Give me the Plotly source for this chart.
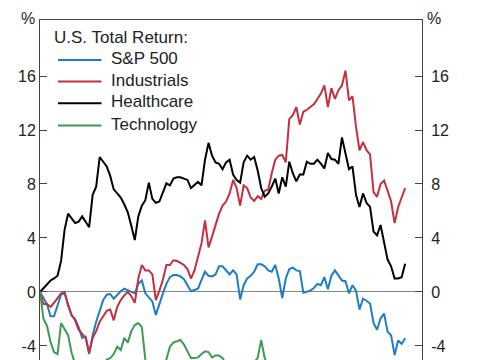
import plotly.graph_objects as go

weeks = list(range(105))

sp500 = [0, -0.5, -0.9, -1.8, -1.8, -1.0, -0.2, -0.1, -0.9, -1.75,
         -2.0, -2.6, -3.4, -3.3, -4.6, -3.2, -2.2, -1.3, -0.6, -0.2,
         -0.15, -0.5, -0.2, 0.05, 0.25, 0.15, 0.0, -0.1, 0.6, 0.85,
         -0.1, -0.4, -0.7, -1.7, -0.8, -0.1, 0.6, 1.1, 1.25, 1.26,
         1.15, 0.95, 0.5, 0.05, 0.15, 0.25, 0.9, 1.5, 1.2, 1.15,
         1.3, 1.9, 1.9, 1.6, 1.3, 1.6, 1.3, -0.55, 0.5, 1.0,
         1.2, 1.5, 2.05, 2.05, 1.9, 1.6, 1.5, 2.0, 1.0, -0.45,
         1.0, 1.7, 1.8, 1.6, 1.55, -0.05, 0.02, 0.1, 0.3, 0.6,
         0.5, 1.1, 0.2, 1.2, 1.6, 1.2, 0.85, 0.8, -0.1, 0.5,
         0.1, -1.3, -0.5, -0.65, -0.85, -2.3, -2.8, -1.95, -1.6, -2.95,
         -3.2, -4.67, -3.6, -3.85, -3.43]

industrials = [0, -0.9, -0.9, -1.1, -0.8, -0.4, -0.1, 0.0, -1.0, -1.7,
               -2.1, -2.8, -3.1, -3.4, -4.5, -3.4, -2.9, -2.2, -1.8, -1.4,
               -1.3, -2.1, -1.1, -0.6, -0.25, 0.0, -0.3, -0.8, 1.0, 2.0,
               1.6, 1.6, 1.3, -0.6, 0.1, 0.9, 2.0, 2.0, 2.35, 2.3,
               2.15, 2.0, 1.7, 1.0, 1.6, 2.5, 3.6, 5.3, 3.3, 4.1,
               5.0, 5.8, 6.4, 6.7, 7.3, 8.3, 7.7, 6.4, 7.9, 7.7,
               7.0, 6.75, 7.1, 6.9, 7.5, 7.6, 8.8, 9.8, 10.1, 10.15,
               9.6, 12.8, 13.1, 13.7, 12.4, 13.35, 13.5, 13.7, 13.9, 14.3,
               14.7, 15.3, 13.7, 15.1, 14.3, 14.95, 15.3, 16.4, 14.2, 14.5,
               12.25, 10.5, 11.1, 10.5, 10.2, 7.4, 7.05, 8.0, 8.25, 7.5,
               6.7, 5.1, 6.3, 7.0, 7.7]

healthcare = [0, 0.3, 0.6, 0.85, 1.0, 1.2, 2.3, 4.6, 5.8, 5.4,
              5.1, 5.2, 5.6, 5.2, 4.8, 7.2, 7.8, 10.0, 9.65, 9.3,
              8.6, 7.6, 7.3, 7.0, 6.5, 5.9, 4.9, 3.85, 5.6, 6.4,
              6.8, 8.1, 6.9, 6.6, 6.7, 7.4, 8.05, 7.9, 8.4, 8.5,
              8.5, 8.4, 8.3, 7.7, 7.9, 8.15, 7.9, 9.8, 11.05, 10.1,
              9.6, 9.5, 9.1, 9.6, 9.8, 8.7, 8.3, 8.1, 9.6, 10.1,
              9.8, 10.0, 9.0, 7.7, 7.05, 7.3, 7.8, 8.4, 7.3, 8.5,
              7.8, 9.65, 8.8, 8.2, 8.7, 8.7, 9.65, 9.5, 9.5, 9.8,
              9.5, 9.15, 10.3, 9.85, 9.8, 9.5, 11.45, 10.3, 9.1, 9.3,
              7.2, 6.3, 7.3, 6.6, 6.3, 4.47, 4.2, 4.96, 3.6, 2.4,
              1.9, 1.0, 1.0, 1.1, 2.1]

technology = [0, -2.0, -2.5, -3.7, -4.45, -4.6, -2.3, -2.8, -3.2, -4.5,
              -5.5, -6.2, -6.5, -7.0, -7.5, -7.0, -6.5, -6.0, -5.6, -5.0,
              -4.9, -4.6, -4.05, -4.3, -3.4, -3.75, -2.9, -2.45, -2.3, -2.6,
              -5.0, -6.0, -6.3, -6.5, -6.0, -5.5, -5.0, -4.05, -3.75, -3.65,
              -3.55, -3.9, -4.45, -4.9, -4.9, -4.85, -4.6, -4.4, -4.45, -4.85,
              -4.7, -4.7, -4.9, -5.4, -5.8, -6.0, -5.9, -6.2, -5.8, -5.6,
              -5.4, -5.2, -4.9, -3.55, -4.9, -5.5, -6.0, -6.3, -6.2, -6.8,
              -7.0, -6.6, -7.2, -7.5, -7.3, -7.9, -8.2, -8.0, -8.4, -8.1,
              -7.8, -8.3, -8.6, -8.2, -8.0, -8.5, -8.1, -7.9, -8.8, -8.6,
              -9.5, -10.2, -9.8, -10.1, -10.4, -11.5, -12.0, -11.4, -11.1, -12.2,
              -12.6, -13.5, -12.8, -13.0, -12.7]

series_names = ["S&P 500", "Industrials", "Healthcare", "Technology"]
series_colors = ["#1f7cc6", "#c4303f", "#000000", "#3f9a52"]
tick_vals = [-4, 0, 4, 8, 12, 16]
tick_text = ["-4", "0", "4", "8", "12", "16"]
legend_title = "U.S. Total Return:"
unit_label = "%"

FONT = "Liberation Sans, Arial, sans-serif"
TXT = "#222222"
AXC = "#444444"
YR = [-5.04, 20.15]

fig = go.Figure()
for name, vals, col in zip(series_names, [sp500, industrials, healthcare, technology], series_colors):
    fig.add_trace(go.Scatter(x=weeks, y=vals, mode="lines", name=name,
                             line=dict(color=col, width=2), showlegend=False))
# carrier for the right-hand axis
fig.add_trace(go.Scatter(x=[weeks[0]], y=[sp500[0]], yaxis="y2", mode="lines",
                         line=dict(width=0), showlegend=False, hoverinfo="skip"))

yax = dict(range=YR, tickvals=tick_vals, ticktext=tick_text, ticks="inside",
           ticklen=7, tickcolor=AXC, showline=True, linecolor=AXC, linewidth=1,
           showgrid=False, tickfont=dict(size=16, color=TXT, family=FONT))

# manual legend (paper coordinates)
leg_rows_y = [0.882, 0.819, 0.755, 0.690]
shapes = []
annotations = [dict(text=legend_title, xref="paper", yref="paper", x=0.031, y=0.950,
                    xanchor="left", yanchor="middle", showarrow=False,
                    font=dict(size=17, family=FONT, color=TXT))]
for name, col, yy in zip(series_names, series_colors, leg_rows_y):
    shapes.append(dict(type="line", xref="paper", yref="paper", x0=0.047, x1=0.161,
                       y0=yy, y1=yy, line=dict(color=col, width=2)))
    annotations.append(dict(text=name, xref="paper", yref="paper", x=0.181, y=yy + 0.004,
                            xanchor="left", yanchor="middle", showarrow=False,
                            font=dict(size=17, family=FONT, color=TXT)))
annotations += [
    dict(text=unit_label, xref="paper", yref="paper", x=-0.031, y=1.003,
         xanchor="center", yanchor="middle", showarrow=False,
         font=dict(size=16, family=FONT, color=TXT)),
    dict(text=unit_label, xref="paper", yref="paper", x=1.031, y=1.003,
         xanchor="center", yanchor="middle", showarrow=False,
         font=dict(size=16, family=FONT, color=TXT)),
]

fig.update_layout(
    width=477, height=352,
    margin=dict(l=32, r=63, t=12, b=0),
    paper_bgcolor="white", plot_bgcolor="white",
    font=dict(family=FONT, color=TXT),
    xaxis=dict(range=[0, 108.8], side="top", showticklabels=False, ticks="",
               showgrid=False, zeroline=False, showline=True, linecolor=AXC, linewidth=1),
    yaxis=dict(**yax, zeroline=True, zerolinecolor="#888888", zerolinewidth=1),
    yaxis2=dict(**yax, overlaying="y", side="right", anchor="x", zeroline=False,
                ticklabelstandoff=5),
    showlegend=False,
    shapes=shapes,
    annotations=annotations,
)

fig.write_html("out.html")
